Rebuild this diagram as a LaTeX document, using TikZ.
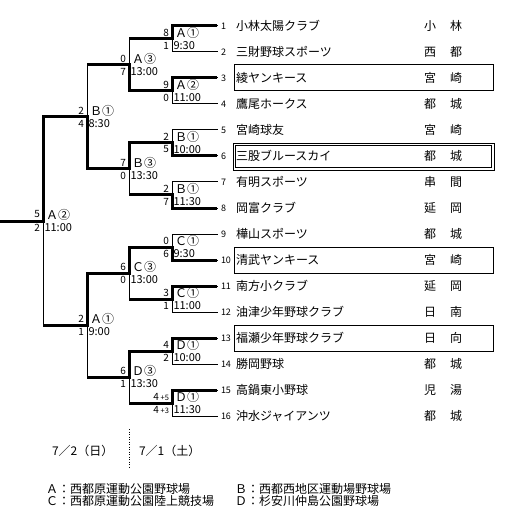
\documentclass[tikz,border=0pt]{standalone}
\usepackage{fontspec}
\setmainfont{Noto Sans CJK JP}
\begin{document}
\begin{tikzpicture}[x=1pt,y=-1pt,
  thinl/.style={line width=1pt, line cap=rect},
  win/.style={line width=3pt, line join=miter},
  dotline/.style={line width=1pt, dash pattern=on 1pt off 1.5pt},
  entrybox/.style={line width=1pt},
  lbl/.style={inner sep=0pt, outer sep=0pt},
  venue/.style={lbl, anchor=west, font=\fontsize{12}{12}\selectfont},
  timel/.style={lbl, anchor=west, font=\fontsize{11}{11}\selectfont},
  score/.style={lbl, anchor=east, font=\fontsize{10}{10}\selectfont},
  num/.style={lbl, anchor=west, font=\fontsize{9}{9}\selectfont},
  team/.style={lbl, anchor=west, font=\fontsize{12}{12}\selectfont},
  town/.style={lbl, font=\fontsize{12}{12}\selectfont},
  legend/.style={lbl, anchor=west, font=\fontsize{12}{12}\selectfont}
]
\path[fill=white, use as bounding box] (0,0) rectangle (511,521);

\newcommand\matchlbl[7]{%
  \coordinate (#1) at (#2,#3);
  \node[venue] (#1v) at ([xshift=3pt,yshift=6pt]#1) {#4};
  \node[timel] (#1t) at ([xshift=1.5pt,yshift=-7pt]#1) {#5};
  \node[score] (#1s) at ([xshift=-3pt,yshift=6.5pt]#1) {#6};
  \node[score] (#1r) at ([xshift=-3pt,yshift=-6.5pt]#1) {#7};
}

% entry boxes
\draw[entrybox] (234,65) rectangle (493,91);
\draw[entrybox] (233,143.5) rectangle (494,170.5);
\draw[entrybox] (235.5,146) rectangle (491.5,168);
\draw[entrybox] (234,247) rectangle (493,273);
\draw[entrybox] (234,325) rectangle (493,351);

% teams
\foreach \i/\name/\ta/\tb in {
  1/小林太陽クラブ/小/林, 2/三財野球スポーツ/西/都, 3/綾ヤンキース/宮/崎,
  4/鷹尾ホークス/都/城, 5/宮崎球友/宮/崎, 6/三股ブルースカイ/都/城,
  7/有明スポーツ/串/間, 8/岡富クラブ/延/岡, 9/樺山スポーツ/都/城,
  10/清武ヤンキース/宮/崎, 11/南方小クラブ/延/岡, 12/油津少年野球クラブ/日/南,
  13/福瀬少年野球クラブ/日/向, 14/勝岡野球/都/城, 15/高鍋東小野球/児/湯,
  16/沖水ジャイアンツ/都/城} {
  \coordinate (e\i) at (217,26*\i);
  \node[num] (num\i) at (221,26*\i) {\i};
  \node[team] (team\i) at (236,26*\i) {\name};
  \node[town] (ta\i) at (430,26*\i) {\ta};
  \node[town] (tb\i) at (456,26*\i) {\tb};
}

% matches
\matchlbl{a1}{172}{39}{Ａ①}{9:30}{8}{1}
\matchlbl{a2}{172}{91}{Ａ②}{11:00}{9}{0}
\matchlbl{a3}{172}{143}{Ｂ①}{10:00}{2}{5}
\matchlbl{a4}{172}{195}{Ｂ①}{11:30}{2}{7}
\matchlbl{a5}{172}{247}{Ｃ①}{9:30}{0}{6}
\matchlbl{a6}{172}{299}{Ｃ①}{11:00}{3}{1}
\matchlbl{a7}{172}{351}{Ｄ①}{10:00}{4}{2}
\matchlbl{a8}{172}{403}{Ｄ①}{11:30}{4\,{\fontsize{7.5}{7.5}\selectfont +5}}{4\,{\fontsize{7.5}{7.5}\selectfont +3}}
\matchlbl{b1}{129}{65}{Ａ③}{13:00}{0}{7}
\matchlbl{b2}{129}{169}{Ｂ③}{13:30}{7}{0}
\matchlbl{b3}{129}{273}{Ｃ③}{13:00}{6}{0}
\matchlbl{b4}{129}{377}{Ｄ③}{13:30}{6}{1}
\matchlbl{c1}{87}{117}{Ｂ①}{8:30}{2}{4}
\matchlbl{c2}{87}{325}{Ａ①}{9:00}{2}{1}
\matchlbl{f}{43}{221}{Ａ②}{11:00}{5}{2}
\coordinate (ch) at (0,221);

% thin lines
\foreach \i in {1,...,16} \draw[thinl] (e\i) -- (e\i -| a1);
\foreach \k [evaluate=\k as \u using int(2*\k-1), evaluate=\k as \w using int(2*\k)] in {1,...,8}
  \draw[thinl] (e\u -| a\k) -- (e\w -| a\k);
\foreach \k [evaluate=\k as \u using int(2*\k-1), evaluate=\k as \w using int(2*\k)] in {1,...,4}
  \draw[thinl] (a\u -| b\k) -- (a\w -| b\k);
\foreach \k [evaluate=\k as \u using int(2*\k-1), evaluate=\k as \w using int(2*\k)] in {1,2}
  \draw[thinl] (b\u -| c\k) -- (b\w -| c\k);
\draw[thinl] (c1 -| f) -- (c2 -| f);

% winner paths
\draw[win] (e1) -- (e1 -| a1) -- (a1) -- (a1 -| b1);
\draw[win] (e3) -- (e3 -| a2) -- (a2) -- (a2 -| b1) -- (b1) -- (b1 -| c1);
\draw[win] (e6) -- (e6 -| a3) -- (a3) -- (a3 -| b2) -- (b2) -- (b2 -| c1) -- (c1) -- (c1 -| f) -- (f) -- (ch);
\draw[win] (e8) -- (e8 -| a4) -- (a4) -- (a4 -| b2);
\draw[win] (e10) -- (e10 -| a5) -- (a5) -- (a5 -| b3) -- (b3) -- (b3 -| c2) -- (c2) -- (c2 -| f);
\draw[win] (e11) -- (e11 -| a6) -- (a6) -- (a6 -| b3);
\draw[win] (e13) -- (e13 -| a7) -- (a7) -- (a7 -| b4) -- (b4) -- (b4 -| c2);
\draw[win] (e15) -- (e15 -| a8) -- (a8) -- (a8 -| b4);

% dates
\coordinate (dtop) at (129,429);
\coordinate (dbot) at (129,467);
\draw[dotline] (dtop) -- (dbot);
\node[legend] (d2) at (52,451) {7／2（日）};
\node[legend] (d1) at (139,451) {7／1（土）};

% legend
\node[legend] (la) at (46,489) {Ａ：西都原運動公園野球場};
\node[legend] (lc) at (46,501) {Ｃ：西都原運動公園陸上競技場};
\node[legend] (lb) at (235,489) {Ｂ：西都西地区運動場野球場};
\node[legend] (ld) at (235,501) {Ｄ：杉安川仲島公園野球場};
\end{tikzpicture}
\end{document}
